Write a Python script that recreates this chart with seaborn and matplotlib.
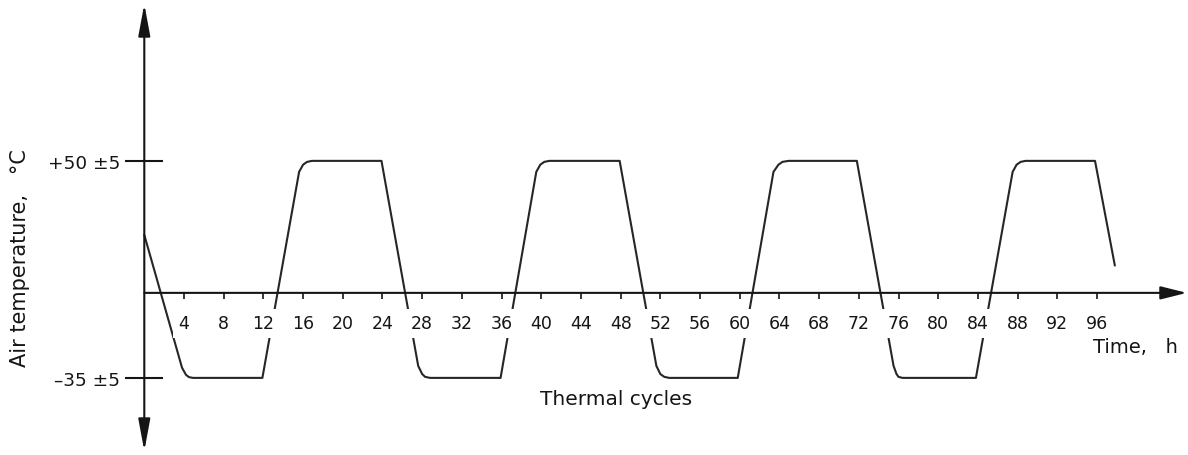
import matplotlib
matplotlib.use('Agg')
import matplotlib.pyplot as plt
import seaborn as sns

# Thermal cycle profile (time in hours, air temperature in deg C)
hours = [0, 3.8, 4.2, 4.5, 4.9,
         11.9, 15.6, 16.0, 16.4, 16.9,
         23.9, 27.6, 28.0, 28.3, 28.8,
         35.9, 39.5, 39.9, 40.3, 40.8,
         47.9, 51.6, 52.0, 52.4, 52.9,
         59.8, 63.4, 63.9, 64.3, 64.9,
         71.8, 75.5, 75.8, 76.0, 76.4,
         83.8, 87.5, 87.9, 88.3, 88.8,
         95.8, 97.8]
temps = [21, -31, -33.8, -34.7, -35,
         -35, 45.7, 48.5, 49.6, 50,
         50, -30.3, -33.5, -34.6, -35,
         -35, 45.7, 48.5, 49.6, 50,
         50, -30.3, -33.5, -34.6, -35,
         -35, 45.7, 48.5, 49.6, 50,
         50, -30.3, -33.5, -34.6, -35,
         -35, 45.7, 48.5, 49.6, 50,
         50, 9]

time_ticks = list(range(4, 97, 4))
temp_levels = [50, -35]
temp_labels = ['+50 \u00b15', '\u201335 \u00b15']

sns.set_style('white')
plt.rcParams['font.family'] = ['DejaVu Sans']

ink = '#151515'
time_axis_level = -1.7

fig = plt.figure(figsize=(11.88, 4.56), dpi=100)
ax = fig.add_axes([0, 0, 1, 1])
ax.set_facecolor('white')
ax.set_axisbelow(False)  # seaborn style puts the axis under the curve

sns.lineplot(x=hours, y=temps, sort=False, ax=ax, color='#262626', linewidth=1.5)

ax.set_xlim(-14.54, 105.17)
ax.set_ylim(-65.2, 113.4)

# axes through the origin, lines drawn as arrows below
for side in ['top', 'right']:
    ax.spines[side].set_visible(False)
ax.spines['left'].set_position(('data', 0))
ax.spines['bottom'].set_position(('data', time_axis_level))
ax.spines['left'].set_color('none')
ax.spines['bottom'].set_color('none')

ax.set_xticks(time_ticks)
ax.set_xticklabels([str(t) for t in time_ticks])
ax.tick_params(axis='x', bottom=True, direction='out', length=4.5, width=1.2,
               color=ink, labelsize=12.5, labelcolor=ink, pad=11)

ax.set_yticks(temp_levels)
ax.set_yticklabels(temp_labels)
ax.tick_params(axis='y', left=True, direction='inout', length=27, width=1.5,
               color=ink, labelsize=13.3, labelcolor=ink, pad=4)
ax.grid(False)

# arrowed axes
ax.annotate('', xy=(0, 0.989), xytext=(0, 0.0088),
            xycoords=ax.get_xaxis_transform(), textcoords=ax.get_xaxis_transform(),
            arrowprops=dict(arrowstyle='<|-|>,head_length=0.97,head_width=0.18',
                            mutation_scale=20, color=ink, lw=1.5,
                            shrinkA=0, shrinkB=0))
ax.annotate('', xy=(0.999, time_axis_level), xytext=(0.1215, time_axis_level),
            xycoords=ax.get_yaxis_transform(), textcoords=ax.get_yaxis_transform(),
            arrowprops=dict(arrowstyle='-|>,head_length=0.8,head_width=0.2',
                            mutation_scale=20, color=ink, lw=1.5,
                            shrinkA=0, shrinkB=0))

fig.text(20.5 / 1188, 1 - 258 / 456, 'Air temperature,   \u00b0C', rotation=90,
         ha='center', va='center', fontsize=15, color=ink)
fig.text(1093 / 1188, 1 - 353 / 456, 'Time,   h', ha='left', va='baseline',
         fontsize=14, color=ink)
fig.text(540 / 1188, 1 - 405 / 456, 'Thermal cycles', ha='left', va='baseline',
         fontsize=14.5, color=ink)

# white boxes behind the hour labels break the curve, as in the drawing
fig.canvas.draw()
for tick in ax.xaxis.get_major_ticks():
    tick.label1.set_bbox(dict(facecolor='white', edgecolor='none', pad=4))

fig.savefig('out.png', dpi=100, facecolor='white')
plt.close(fig)
